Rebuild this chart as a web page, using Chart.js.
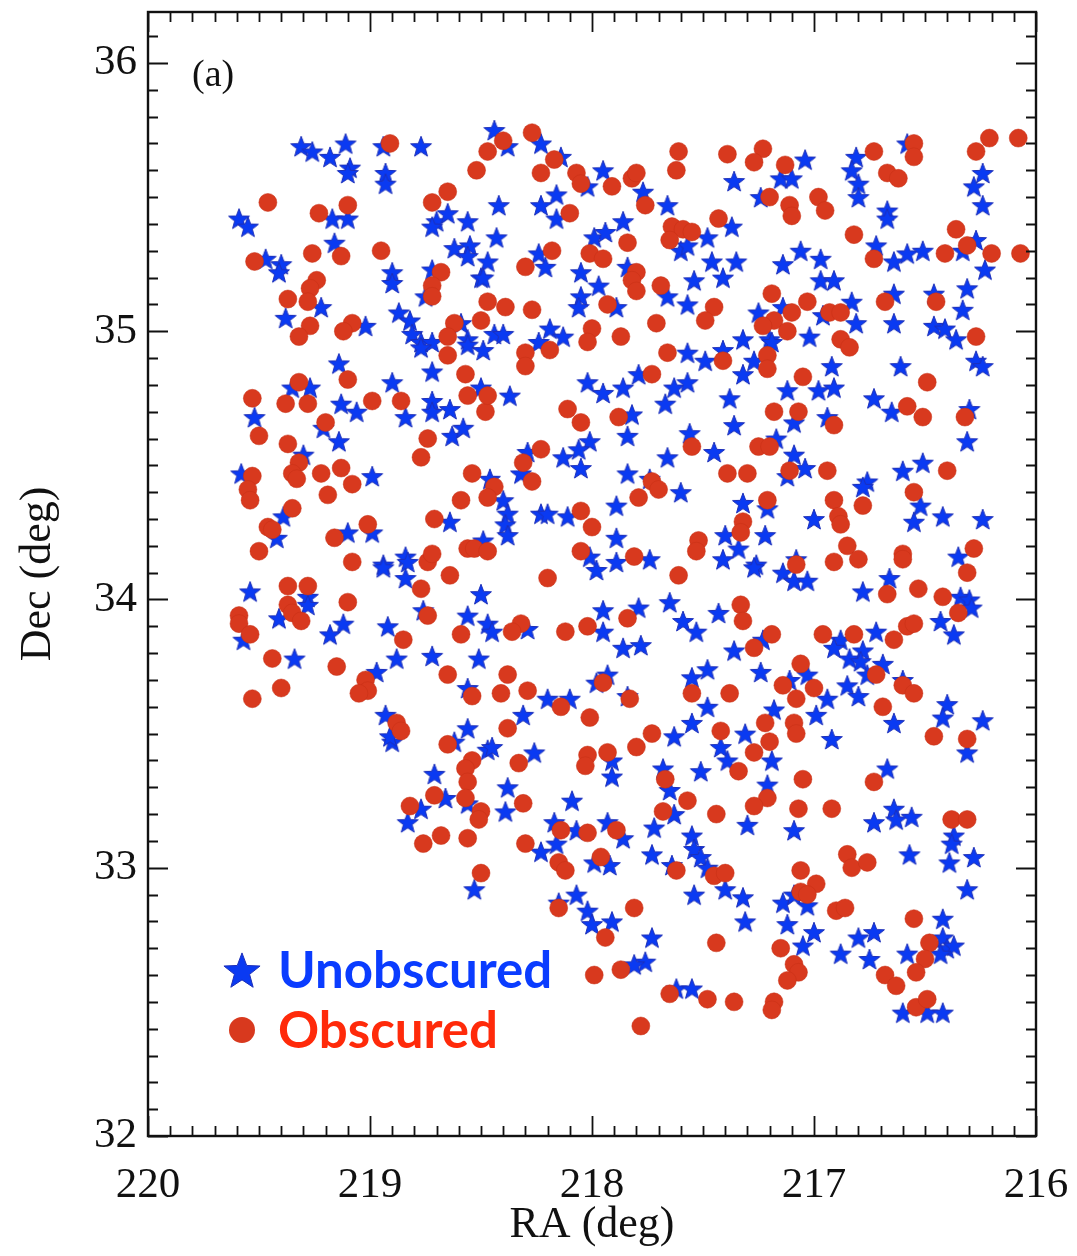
<!DOCTYPE html>
<html lang="en">
<head>
    <meta charset="UTF-8">
    <title>RA / Dec (a)</title>
    <script src="https://cdn.jsdelivr.net/npm/chart.js"></script>
    <style>
        html, body { margin: 0; padding: 0; background: #fff; }
    </style>
</head>
<body>
    <canvas id="skyChart" width="1077" height="1256"></canvas>

    <script>
        // Unobscured sources (stars)
        var unobscuredRA = [
            219.31, 219.26, 219.18, 219.11, 219.09, 219.10, 218.94, 218.77, 218.93, 218.93,
            219.59, 219.55, 219.17, 219.10, 219.16, 219.47, 219.40, 219.41, 218.90, 218.90,
            218.72, 218.75, 218.70, 218.65, 218.56, 218.72, 218.62, 218.55, 218.56, 218.50,
            219.22, 219.38, 219.02, 218.87, 218.82, 218.81, 218.59, 218.56, 218.77, 218.72,
            218.44, 218.38, 218.23, 218.14, 217.95, 218.02, 217.77, 217.66, 217.36, 218.42,
            218.23, 218.16, 218.16, 218.43, 217.99, 217.94, 217.86, 218.24, 218.21, 218.47,
            218.49, 218.05, 217.84, 217.97, 218.05, 218.06, 217.89, 217.66, 217.57, 217.54,
            217.46, 217.41, 217.35, 217.37, 217.48, 217.60, 217.57, 218.19, 218.44, 218.40,
            218.13, 218.24, 217.32, 217.04, 217.15, 217.10, 217.24, 216.81, 216.83, 216.80,
            216.80, 216.58, 216.24, 216.28, 216.24, 216.67, 216.67, 216.72, 216.64, 216.58,
            216.51, 216.33, 216.27, 216.23, 217.06, 217.14, 216.97, 216.97, 216.91, 216.83,
            216.81, 216.96, 217.14, 217.25, 217.20, 217.02, 216.64, 216.64, 216.46, 216.31,
            216.33, 216.46, 216.41, 216.36, 219.14, 219.35, 219.27, 219.13, 219.06, 218.90,
            219.52, 219.21, 219.14, 219.30, 219.58, 218.99, 219.39, 219.42, 219.10, 218.99,
            218.84, 218.94, 218.72, 218.72, 218.64, 218.72, 218.63, 218.58, 218.84, 218.64,
            218.49, 218.77, 218.56, 218.49, 218.50, 218.37, 218.02, 217.95, 217.86, 217.79,
            217.67, 217.63, 217.57, 217.57, 217.49, 217.41, 217.32, 217.38, 217.36, 217.82,
            217.84, 218.01, 218.06, 218.13, 218.05, 218.29, 218.32, 217.56, 217.66, 217.45,
            217.84, 217.74, 217.60, 217.89, 218.46, 218.40, 218.38, 218.39, 218.38, 218.23,
            218.20, 218.11, 217.89, 218.01, 217.89, 217.74, 217.40, 217.32, 217.34, 217.41,
            217.19, 216.27, 216.24, 216.61, 216.92, 217.27, 217.12, 216.98, 216.91, 216.73,
            216.65, 216.30, 216.94, 217.09, 217.17, 217.09, 217.04, 217.12, 216.31, 216.51,
            216.60, 216.76, 216.78, 216.52, 216.42, 216.24, 216.55, 217.00, 217.21, 217.22,
            217.08, 217.26, 216.35, 219.54, 219.28, 219.28, 219.41, 219.12, 219.18, 219.57,
            219.34, 218.92, 218.94, 218.83, 218.84, 218.76, 218.50, 218.56, 218.47, 218.88,
            218.72, 218.51, 218.97, 218.56, 218.93, 218.90, 218.91, 218.56, 218.62, 218.47,
            218.71, 217.98, 218.45, 218.29, 217.95, 217.79, 217.65, 217.95, 217.59, 217.53,
            217.43, 217.86, 217.78, 217.36, 217.93, 217.98, 217.84, 218.20, 218.10, 218.31,
            217.55, 217.48, 217.48, 217.55, 217.63, 217.42, 217.31, 217.39, 218.45, 218.26,
            217.91, 217.91, 217.68, 217.51, 218.38, 217.27, 217.14, 217.09, 217.03, 216.78,
            216.66, 216.34, 216.30, 216.29, 216.43, 216.37, 216.72, 216.88, 216.91, 216.84,
            216.78, 216.79, 216.69, 216.76, 217.03, 217.11, 216.85, 216.80, 216.94, 216.60,
            217.23, 217.24, 217.18, 216.99, 216.64, 216.40, 216.42, 216.24, 216.92, 217.19,
            216.67, 216.31, 217.21, 218.66, 218.77, 218.83, 218.56, 218.53, 218.39, 218.09,
            217.65, 217.63, 218.17, 218.07, 217.93, 217.86, 218.23, 218.16, 217.72, 217.55,
            217.54, 217.51, 217.73, 217.99, 217.92, 217.64, 217.48, 217.40, 217.32, 217.31,
            217.54, 218.07, 218.15, 218.02, 218.00, 217.91, 217.73, 217.76, 217.81, 217.62,
            217.55, 217.30, 217.09, 216.73, 216.64, 216.63, 216.56, 216.57, 216.37, 216.38,
            216.39, 216.28, 216.31, 217.14, 217.09, 217.03, 217.12, 217.00, 217.05, 216.88,
            216.80, 216.73, 216.75, 216.58, 216.42, 216.42, 216.40, 216.37, 216.43, 216.60,
            216.49, 216.42
        ];
        var unobscuredDec = [
            35.69, 35.67, 35.65, 35.70, 35.61, 35.59, 35.69, 35.69, 35.59, 35.55,
            35.42, 35.39, 35.42, 35.42, 35.33, 35.27, 35.25, 35.22, 35.22, 35.18,
            35.23, 35.13, 35.41, 35.44, 35.41, 35.39, 35.31, 35.32, 35.28, 35.20,
            35.09, 35.05, 35.02, 35.07, 35.04, 34.99, 35.03, 34.97, 34.96, 34.96,
            35.75, 35.69, 35.70, 35.65, 35.60, 35.54, 35.52, 35.47, 35.56, 35.47,
            35.47, 35.51, 35.42, 35.35, 35.35, 35.37, 35.41, 35.29, 35.24, 35.26,
            35.20, 35.22, 35.24, 35.17, 35.13, 35.09, 35.09, 35.13, 35.10, 35.19,
            35.26, 35.20, 35.26, 35.39, 35.35, 35.30, 35.32, 35.01, 34.99, 34.99,
            34.98, 34.96, 34.97, 35.64, 35.57, 35.57, 35.50, 35.65, 35.60, 35.55,
            35.50, 35.70, 35.59, 35.54, 35.47, 35.45, 35.42, 35.32, 35.26, 35.29,
            35.30, 35.30, 35.34, 35.23, 35.30, 35.25, 35.27, 35.19, 35.19, 35.11,
            35.03, 35.06, 35.09, 35.07, 34.97, 34.98, 35.14, 35.03, 35.14, 35.16,
            35.08, 35.02, 35.01, 34.97, 34.88, 34.79, 34.79, 34.73, 34.70, 34.81,
            34.68, 34.64, 34.59, 34.54, 34.47, 34.46, 34.31, 34.23, 34.25, 34.25,
            34.16, 34.13, 34.85, 34.74, 34.71, 34.70, 34.61, 34.64, 34.68, 34.29,
            34.22, 34.94, 34.95, 34.93, 34.79, 34.76, 34.81, 34.77, 34.79, 34.84,
            34.73, 34.79, 34.81, 34.92, 34.89, 34.93, 34.84, 34.75, 34.65, 34.69,
            34.61, 34.59, 34.56, 34.53, 34.49, 34.55, 34.47, 34.62, 34.53, 34.55,
            34.47, 34.45, 34.40, 34.35, 34.45, 34.37, 34.32, 34.28, 34.24, 34.32,
            34.32, 34.31, 34.23, 34.16, 34.14, 34.15, 34.24, 34.36, 34.19, 34.15,
            34.96, 34.89, 34.87, 34.87, 34.87, 34.89, 34.78, 34.78, 34.79, 34.75,
            34.70, 34.71, 34.68, 34.66, 34.60, 34.54, 34.49, 34.46, 34.59, 34.51,
            34.48, 34.44, 34.42, 34.35, 34.31, 34.30, 34.29, 34.30, 34.34, 34.24,
            34.15, 34.13, 34.16, 34.03, 34.01, 33.98, 33.93, 33.91, 33.87, 33.85,
            33.78, 33.90, 34.12, 34.14, 34.08, 33.96, 34.02, 33.94, 33.91, 33.78,
            33.79, 33.78, 33.73, 33.67, 33.57, 33.47, 33.49, 33.52, 33.47, 33.44,
            33.35, 34.11, 33.88, 33.89, 33.96, 33.97, 33.99, 33.88, 33.92, 33.88,
            33.95, 33.82, 33.83, 33.81, 33.72, 33.69, 33.64, 33.63, 33.63, 33.57,
            33.71, 33.74, 33.60, 33.54, 33.49, 33.45, 33.50, 33.40, 33.45, 33.43,
            33.40, 33.34, 33.37, 33.36, 33.30, 34.12, 34.10, 34.07, 34.07, 34.03,
            34.08, 34.01, 34.00, 33.97, 33.92, 33.87, 33.88, 33.85, 33.82, 33.78,
            33.81, 33.77, 33.76, 33.72, 33.72, 33.70, 33.68, 33.64, 33.63, 33.70,
            33.85, 33.73, 33.59, 33.57, 33.54, 33.61, 33.56, 33.55, 33.48, 33.40,
            33.37, 33.43, 33.31, 33.26, 33.22, 33.17, 33.24, 32.92, 33.21, 33.25,
            33.29, 33.20, 33.17, 33.14, 33.17, 33.11, 33.06, 33.09, 33.15, 33.12,
            33.07, 33.04, 33.05, 33.02, 33.01, 33.01, 33.00, 32.92, 32.89, 32.80,
            32.90, 32.90, 32.87, 32.84, 32.79, 32.80, 32.74, 32.65, 32.64, 32.55,
            32.55, 33.16, 33.14, 33.17, 33.22, 33.18, 33.19, 33.05, 33.12, 33.09,
            33.02, 33.04, 32.92, 32.87, 32.90, 32.86, 32.79, 32.76, 32.71, 32.68,
            32.74, 32.76, 32.66, 32.68, 32.81, 32.74, 32.70, 32.71, 32.68, 32.46,
            32.46, 32.46
        ];

        // Obscured sources (circles)
        var obscuredRA = [
            218.91, 218.52, 219.46, 219.10, 219.23, 218.72, 218.65, 219.26, 219.13, 218.95,
            219.52, 218.68, 218.72, 218.72, 219.24, 219.27, 219.28, 219.37, 219.27, 219.08,
            219.12, 219.32, 218.62, 218.65, 218.50, 218.47, 218.47, 218.27, 218.40, 218.17,
            218.23, 218.07, 218.05, 217.91, 217.82, 217.80, 217.76, 217.61, 217.62, 217.39,
            217.43, 218.10, 217.64, 217.59, 217.55, 217.65, 217.84, 218.18, 218.01, 217.95,
            218.30, 217.80, 217.82, 217.80, 217.69, 217.93, 218.39, 218.27, 217.45, 217.49,
            217.71, 218.00, 218.02, 217.87, 217.23, 217.27, 217.13, 217.20, 217.11, 217.10,
            216.98, 216.95, 216.73, 216.67, 216.62, 216.55, 216.55, 216.27, 216.21, 216.82,
            216.73, 216.36, 216.31, 216.41, 216.20, 217.19, 217.03, 217.10, 217.18, 217.23,
            217.12, 216.93, 216.88, 216.68, 216.45, 216.27, 216.88, 216.84, 219.10, 219.32,
            219.53, 219.38, 219.28, 218.99, 218.86, 219.20, 219.50, 219.37, 218.74, 218.77,
            219.32, 219.35, 219.33, 219.22, 219.13, 219.08, 219.53, 219.55, 219.54, 219.19,
            219.35, 218.57, 218.56, 218.48, 218.47, 218.54, 218.59, 218.71, 219.46, 219.44,
            219.16, 219.01, 219.50, 219.08, 218.74, 218.72, 218.56, 218.53, 218.65, 218.30,
            218.30, 218.19, 217.66, 217.41, 217.73, 218.11, 218.05, 217.88, 218.23, 218.31,
            218.27, 217.55, 217.39, 217.30, 217.73, 217.70, 217.79, 218.44, 218.47, 218.05,
            218.00, 218.47, 218.05, 217.81, 217.52, 217.53, 217.32, 217.33, 217.21, 217.21,
            217.05, 217.18, 217.07, 216.91, 216.58, 216.51, 216.49, 216.32, 217.25, 217.20,
            217.11, 216.94, 216.40, 216.55, 217.21, 216.91, 216.78, 216.89, 216.88, 216.85,
            216.80, 216.91, 216.60, 216.60, 216.28, 217.08, 218.64, 219.37, 219.28, 219.10,
            218.77, 218.74, 219.37, 219.35, 219.31, 219.59, 219.59, 219.54, 219.44, 219.15,
            218.85, 218.59, 218.65, 218.54, 219.40, 219.53, 219.02, 219.01, 219.05, 218.88,
            218.86, 218.65, 218.54, 218.57, 218.56, 218.20, 217.61, 217.33, 217.32, 218.32,
            218.36, 218.12, 218.02, 217.84, 218.38, 218.41, 218.29, 218.14, 217.95, 217.83,
            217.55, 217.38, 218.01, 217.73, 217.80, 218.38, 218.02, 218.03, 217.93, 218.33,
            217.67, 217.42, 217.34, 216.31, 216.53, 216.67, 216.42, 216.35, 217.19, 217.27,
            216.96, 216.82, 216.64, 216.58, 216.55, 217.06, 217.14, 217.08, 217.00, 216.72,
            216.60, 216.55, 216.69, 217.22, 217.09, 217.08, 217.20, 217.27, 216.46, 216.31,
            217.05, 216.73, 218.71, 218.57, 218.82, 218.50, 218.51, 218.68, 218.76, 218.56,
            218.50, 218.31, 218.14, 218.02, 217.89, 217.68, 217.57, 217.44, 218.30, 218.15,
            218.12, 217.96, 217.62, 217.45, 217.40, 217.81, 218.15, 217.94, 217.44, 217.99,
            217.87, 217.65, 217.48, 217.36, 217.78, 217.21, 217.27, 217.07, 216.92, 216.38,
            216.31, 216.85, 216.83, 216.76, 217.06, 217.06, 216.99, 217.03, 216.90, 216.86,
            216.55, 216.48, 216.50, 216.54, 216.68, 216.63, 217.15, 217.09, 217.07, 217.12,
            217.18, 217.19, 216.54, 216.49, 216.08, 216.07
        ];
        var obscuredDec = [
            35.70, 35.60, 35.48, 35.47, 35.44, 35.48, 35.52, 35.29, 35.28, 35.30,
            35.26, 35.22, 35.17, 35.13, 35.19, 35.16, 35.11, 35.12, 35.02, 35.03,
            35.00, 34.98, 35.03, 34.98, 35.04, 35.11, 35.67, 35.74, 35.71, 35.64,
            35.59, 35.59, 35.55, 35.54, 35.57, 35.59, 35.47, 35.67, 35.60, 35.66,
            35.42, 35.44, 35.39, 35.38, 35.37, 35.34, 35.33, 35.30, 35.29, 35.27,
            35.24, 35.22, 35.19, 35.15, 35.17, 35.10, 35.09, 35.08, 35.09, 35.04,
            35.03, 35.01, 34.96, 34.98, 35.68, 35.63, 35.62, 35.50, 35.47, 35.43,
            35.50, 35.45, 35.67, 35.59, 35.57, 35.70, 35.65, 35.67, 35.72, 35.36,
            35.27, 35.38, 35.32, 35.29, 35.29, 35.14, 35.11, 35.07, 35.04, 35.02,
            35.00, 35.07, 35.07, 35.11, 35.11, 34.98, 34.97, 34.94, 34.82, 34.81,
            34.75, 34.73, 34.73, 34.74, 34.74, 34.66, 34.61, 34.58, 34.60, 34.53,
            34.51, 34.47, 34.45, 34.47, 34.49, 34.43, 34.46, 34.41, 34.37, 34.39,
            34.34, 34.84, 34.76, 34.70, 34.76, 34.47, 34.37, 34.30, 34.27, 34.26,
            34.23, 34.28, 34.18, 34.14, 34.14, 34.17, 34.19, 34.19, 34.91, 34.92,
            34.87, 34.93, 34.92, 34.89, 34.84, 34.71, 34.66, 34.68, 34.56, 34.51,
            34.44, 34.57, 34.47, 34.47, 34.44, 34.41, 34.38, 34.42, 34.38, 34.33,
            34.27, 34.18, 34.18, 34.16, 34.22, 34.18, 34.29, 34.25, 34.91, 34.86,
            34.83, 34.70, 34.70, 34.65, 34.72, 34.68, 34.81, 34.68, 34.57, 34.57,
            34.48, 34.48, 34.48, 34.40, 34.37, 34.37, 34.35, 34.31, 34.28, 34.20,
            34.15, 34.14, 34.17, 34.15, 34.19, 34.13, 34.09, 34.05, 34.05, 33.99,
            34.04, 33.94, 33.98, 33.95, 33.92, 33.94, 33.91, 33.87, 33.78, 33.75,
            33.85, 33.87, 33.72, 33.64, 33.67, 33.63, 33.70, 33.66, 33.65, 33.54,
            33.51, 33.46, 33.40, 33.37, 33.32, 34.08, 34.09, 33.98, 33.92, 33.91,
            33.88, 33.88, 33.90, 33.93, 33.72, 33.65, 33.66, 33.60, 33.69, 33.63,
            33.65, 33.65, 33.56, 33.50, 33.45, 33.52, 33.42, 33.38, 33.43, 33.39,
            33.33, 33.51, 33.36, 34.10, 34.04, 34.02, 34.01, 33.95, 33.87, 33.82,
            33.87, 33.87, 33.85, 33.90, 33.91, 33.76, 33.68, 33.63, 33.67, 33.72,
            33.68, 33.65, 33.60, 33.54, 33.54, 33.50, 33.47, 33.43, 33.49, 33.48,
            33.33, 33.32, 33.27, 33.26, 33.23, 33.21, 33.18, 33.12, 33.09, 33.11,
            32.98, 33.24, 33.14, 33.13, 33.14, 33.21, 33.25, 33.20, 33.09, 33.02,
            32.99, 33.04, 32.99, 32.97, 32.98, 32.85, 32.85, 32.74, 32.72, 32.60,
            32.62, 32.53, 32.51, 32.50, 32.41, 33.26, 33.23, 33.22, 33.22, 33.18,
            33.18, 33.05, 33.00, 33.02, 32.99, 32.91, 32.94, 32.90, 32.84, 32.85,
            32.81, 32.72, 32.66, 32.61, 32.60, 32.56, 32.70, 32.64, 32.61, 32.58,
            32.50, 32.47, 32.48, 32.51, 35.72, 35.29
        ];

        // axis ticks
        var raTicks = [220, 219, 218, 217, 216];
        var decTicks = [32, 33, 34, 35, 36];

        var starBlue = '#0a3af2';
        var dotRed = '#d8391e';

        // filled five-point star drawn once, used as point style
        function makeStar(r, fill) {
            var c = document.createElement('canvas');
            var s = Math.ceil(r * 2 + 4);
            c.width = s;
            c.height = s;
            var g = c.getContext('2d');
            g.translate(s / 2, s / 2 + r * 0.1);
            g.beginPath();
            for (var i = 0; i < 10; i++) {
                var rad = (i % 2) ? r * 0.42 : r;
                var a = -Math.PI / 2 + i * Math.PI / 5;
                g.lineTo(rad * Math.cos(a), rad * Math.sin(a));
            }
            g.closePath();
            g.fillStyle = fill;
            g.fill();
            g.lineWidth = 1;
            g.strokeStyle = '#1d2fb8';
            g.stroke();
            return c;
        }

        var smallStar = makeStar(11, starBlue);
        var bigStar = makeStar(19, starBlue);

        function pairs(xs, ys) {
            return xs.map(function(x, i) { return { x: x, y: ys[i] }; });
        }

        // stop the scales from reserving room for their end labels
        function noEdgePadding(s) {
            s.paddingTop = 0;
            s.paddingBottom = 0;
            s.paddingLeft = 0;
            s.paddingRight = 0;
        }

        // box with inward major/minor ticks on all four sides
        var frameTicks = {
            id: 'frameTicks',
            afterDraw: function(chart) {
                var ctx = chart.ctx, a = chart.chartArea;
                var xs = chart.scales.x, ys = chart.scales.y;
                ctx.save();
                ctx.strokeStyle = '#111';
                ctx.lineWidth = 1.8;
                ctx.beginPath();
                var i, v, p, len;
                for (i = 0; i <= 40; i++) {
                    v = 216 + i * 0.1;
                    p = Math.round(xs.getPixelForValue(v)) + 0.5;
                    len = (i % 10 === 0) ? 20 : 10;
                    ctx.moveTo(p, a.bottom); ctx.lineTo(p, a.bottom - len);
                    ctx.moveTo(p, a.top); ctx.lineTo(p, a.top + len);
                }
                for (i = 0; i <= 41; i++) {
                    v = 32 + i * 0.1;
                    if (v > ys.max) break;
                    p = Math.round(ys.getPixelForValue(v)) + 0.5;
                    len = (i % 10 === 0) ? 20 : 10;
                    ctx.moveTo(a.left, p); ctx.lineTo(a.left + len, p);
                    ctx.moveTo(a.right, p); ctx.lineTo(a.right - len, p);
                }
                ctx.stroke();
                ctx.lineWidth = 2.4;
                ctx.strokeRect(a.left, a.top, a.right - a.left, a.bottom - a.top);

                // panel label
                ctx.fillStyle = '#111';
                ctx.font = '38px "Liberation Serif", serif';
                ctx.textBaseline = 'middle';
                ctx.fillText('(a)', a.left + 44, a.top + 64);
                ctx.restore();
            }
        };

        // legend in the lower-left corner of the panel
        var cornerKey = {
            id: 'cornerKey',
            afterDraw: function(chart) {
                var ctx = chart.ctx, a = chart.chartArea;
                var x0 = a.left + 94, y1 = a.top + 958, y2 = a.top + 1018;
                ctx.save();
                ctx.drawImage(bigStar, x0 - bigStar.width / 2, y1 - bigStar.height / 2);
                ctx.beginPath();
                ctx.arc(x0, y2, 13, 0, Math.PI * 2);
                ctx.fillStyle = dotRed;
                ctx.fill();
                ctx.textBaseline = 'middle';
                ctx.font = 'bold 50px Lato, sans-serif';
                var w = ctx.measureText('Unobscured').width;
                var size = Math.round(50 * 275 / w);
                ctx.font = 'bold ' + size + 'px Lato, sans-serif';
                ctx.fillStyle = '#0a3cff';
                ctx.fillText('Unobscured', x0 + 36, y1 + 2);
                ctx.fillStyle = '#ff2a0a';
                ctx.fillText('Obscured', x0 + 36, y2 + 2);
                ctx.restore();
            }
        };

        var serif = '"Liberation Serif", "Times New Roman", serif';

        var ctx = document.getElementById('skyChart').getContext('2d');
        var skyChart = new Chart(ctx, {
            type: 'scatter',
            data: {
                datasets: [{
                    label: 'Obscured',
                    data: pairs(obscuredRA, obscuredDec),
                    pointStyle: 'circle',
                    pointRadius: 9,
                    backgroundColor: dotRed,
                    borderColor: '#c73016',
                    borderWidth: 0.5
                }, {
                    label: 'Unobscured',
                    data: pairs(unobscuredRA, unobscuredDec),
                    pointStyle: smallStar,
                    pointRadius: 11,
                    backgroundColor: starBlue,
                    borderWidth: 0
                }]
            },
            options: {
                responsive: false,
                animation: false,
                events: [],
                devicePixelRatio: 1,
                layout: { padding: { top: 12, right: 41, left: 0, bottom: 0 } },
                plugins: {
                    legend: { display: false },
                    tooltip: { enabled: false }
                },
                scales: {
                    x: {
                        type: 'linear',
                        reverse: true,
                        min: 216,
                        max: 220,
                        afterBuildTicks: function(s) { s.ticks = raTicks.map(function(v) { return { value: v }; }); },
                        afterFit: function(s) { s.height = 120; noEdgePadding(s); },
                        grid: { display: false, drawTicks: false },
                        border: { display: false },
                        ticks: {
                            autoSkip: false,
                            maxRotation: 0,
                            padding: 24,
                            color: '#111',
                            font: { family: serif, size: 43 }
                        },
                        title: {
                            display: true,
                            text: 'RA (deg)',
                            color: '#111',
                            font: { family: serif, size: 44 },
                            padding: { top: 0, bottom: 4 }
                        }
                    },
                    y: {
                        type: 'linear',
                        min: 32,
                        max: 36.19,
                        afterBuildTicks: function(s) { s.ticks = decTicks.map(function(v) { return { value: v }; }); },
                        afterFit: function(s) { s.width = 148; noEdgePadding(s); },
                        grid: { display: false, drawTicks: false },
                        border: { display: false },
                        ticks: {
                            autoSkip: false,
                            padding: 11,
                            color: '#111',
                            font: { family: serif, size: 43 }
                        },
                        title: {
                            display: true,
                            text: 'Dec (deg)',
                            color: '#111',
                            font: { family: serif, size: 44 },
                            padding: { top: 12, bottom: 0 }
                        }
                    }
                }
            },
            plugins: [frameTicks, cornerKey]
        });
    </script>
</body>
</html>
